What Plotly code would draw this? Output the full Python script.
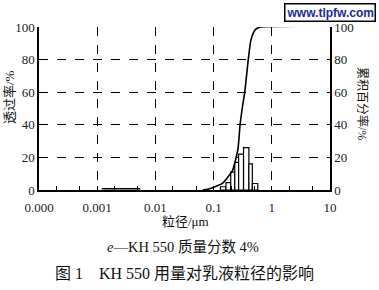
import plotly.graph_objects as go

# ---- data ----
x_tickvals = [1e-4, 1e-3, 1e-2, 1e-1, 1, 10]
x_ticktext = ['0.000', '0.001', '0.01', '0.1', '1', '10']
y_tickvals = [0, 20, 40, 60, 80, 100]

# cumulative curve (particle size in µm, percent)
curve_um = [0.0012, 0.0055, None, 0.065, 0.079, 0.142, 0.212, 0.262, 0.285, 0.31, 0.343, 0.394, 0.432, 0.47, 0.525, 0.637, 10]
curve_pct = [0.8, 0.8, None, 0, 0.5, 4, 12, 25, 40, 50, 60, 80, 91, 95.5, 98.5, 100, 100.5]

# histogram bars (left edge, right edge in µm, percent)
bar_left = [0.131, 0.163, 0.197, 0.231, 0.269, 0.327, 0.404, 0.463]
bar_right = [0.163, 0.197, 0.231, 0.269, 0.327, 0.404, 0.463, 0.574]
bar_pct = [2, 4.5, 11, 17, 22, 26, 16, 4]

SERIF = "Liberation Serif, Noto Sans CJK SC"
CJK = "Liberation Serif, Noto Sans CJK SC"

fig = go.Figure()

for l, r, h in zip(bar_left, bar_right, bar_pct):
    fig.add_trace(go.Scatter(
        x=[l, l, r, r, l], y=[0, h, h, 0, 0], mode='lines', fill='toself',
        fillcolor='white', line=dict(color='black', width=1.2),
        showlegend=False, hoverinfo='skip'))

fig.add_trace(go.Scatter(
    x=curve_um, y=curve_pct, mode='lines',
    line=dict(color='black', width=1.6, shape='spline', smoothing=0.4),
    showlegend=False, cliponaxis=False, connectgaps=False))

# invisible trace for right axis
fig.add_trace(go.Scatter(x=[1], y=[0], yaxis='y2', mode='markers',
                         marker=dict(opacity=0), showlegend=False, hoverinfo='skip'))

tickfont = dict(family=SERIF, size=13, color='#222')

fig.update_layout(
    width=379, height=290,
    margin=dict(l=39, r=49, t=27, b=100),
    paper_bgcolor='white', plot_bgcolor='white',
    xaxis=dict(type='log', range=[-4, 1], tickvals=x_tickvals, ticktext=x_ticktext,
               ticks='inside', ticklen=4, tickcolor='black', ticklabelstandoff=5,
               showline=True, linecolor='black', linewidth=1.5,
               showgrid=True, griddash='dash', gridcolor='black', gridwidth=1.3,
               zeroline=False, tickfont=tickfont,
               minor=dict(ticks='inside', ticklen=4, tickcolor='black', tickwidth=1, showgrid=False)),
    yaxis=dict(range=[0, 100], tickvals=y_tickvals, ticks='inside', ticklen=3,
               tickcolor='black', showline=True, linecolor='black', linewidth=1.5,
               showgrid=True, griddash='dash', gridcolor='black', gridwidth=1.3,
               zeroline=False, tickfont=tickfont),
    yaxis2=dict(range=[0, 100], tickvals=y_tickvals, overlaying='y', side='right',
                anchor='x', ticks='inside', ticklen=3, tickcolor='black',
                showline=True, linecolor='black', linewidth=1.5, showgrid=False,
                zeroline=False, tickfont=tickfont),
)

def px_x(px):
    return (px - 39) / 291

def px_y(py):
    return (190 - py) / 163

annos = [
    dict(text='透过率/%', x=px_x(9), y=px_y(97), textangle=-90, size=13),
    dict(text='累积百分率/%', x=px_x(363), y=px_y(103), textangle=90, size=12),
    dict(text='粒径/μm', x=px_x(185), y=px_y(221), textangle=0, size=13),
    dict(text='<i>e</i>—KH 550 质量分数 4%', x=px_x(183), y=px_y(247), textangle=0, size=14.5),
    dict(text='图 1　KH 550 用量对乳液粒径的影响', x=px_x(184), y=px_y(273), textangle=0, size=16),
]
for a in annos:
    fig.add_annotation(text=a['text'], x=a['x'], y=a['y'], xref='paper', yref='paper',
                       showarrow=False, textangle=a['textangle'],
                       font=dict(family=CJK, size=a['size'], color='#111'),
                       xanchor='center', yanchor='middle')

fig.add_annotation(text='<b>www.tlpfw.com</b>', x=px_x(330), y=px_y(12),
                   xref='paper', yref='paper', showarrow=False,
                   font=dict(family='Liberation Sans', size=12, color='#1a2a9a'),
                   bgcolor='white', bordercolor='black', borderwidth=1.5, borderpad=1,
                   xanchor='center', yanchor='middle')

fig.write_html('out.html')
